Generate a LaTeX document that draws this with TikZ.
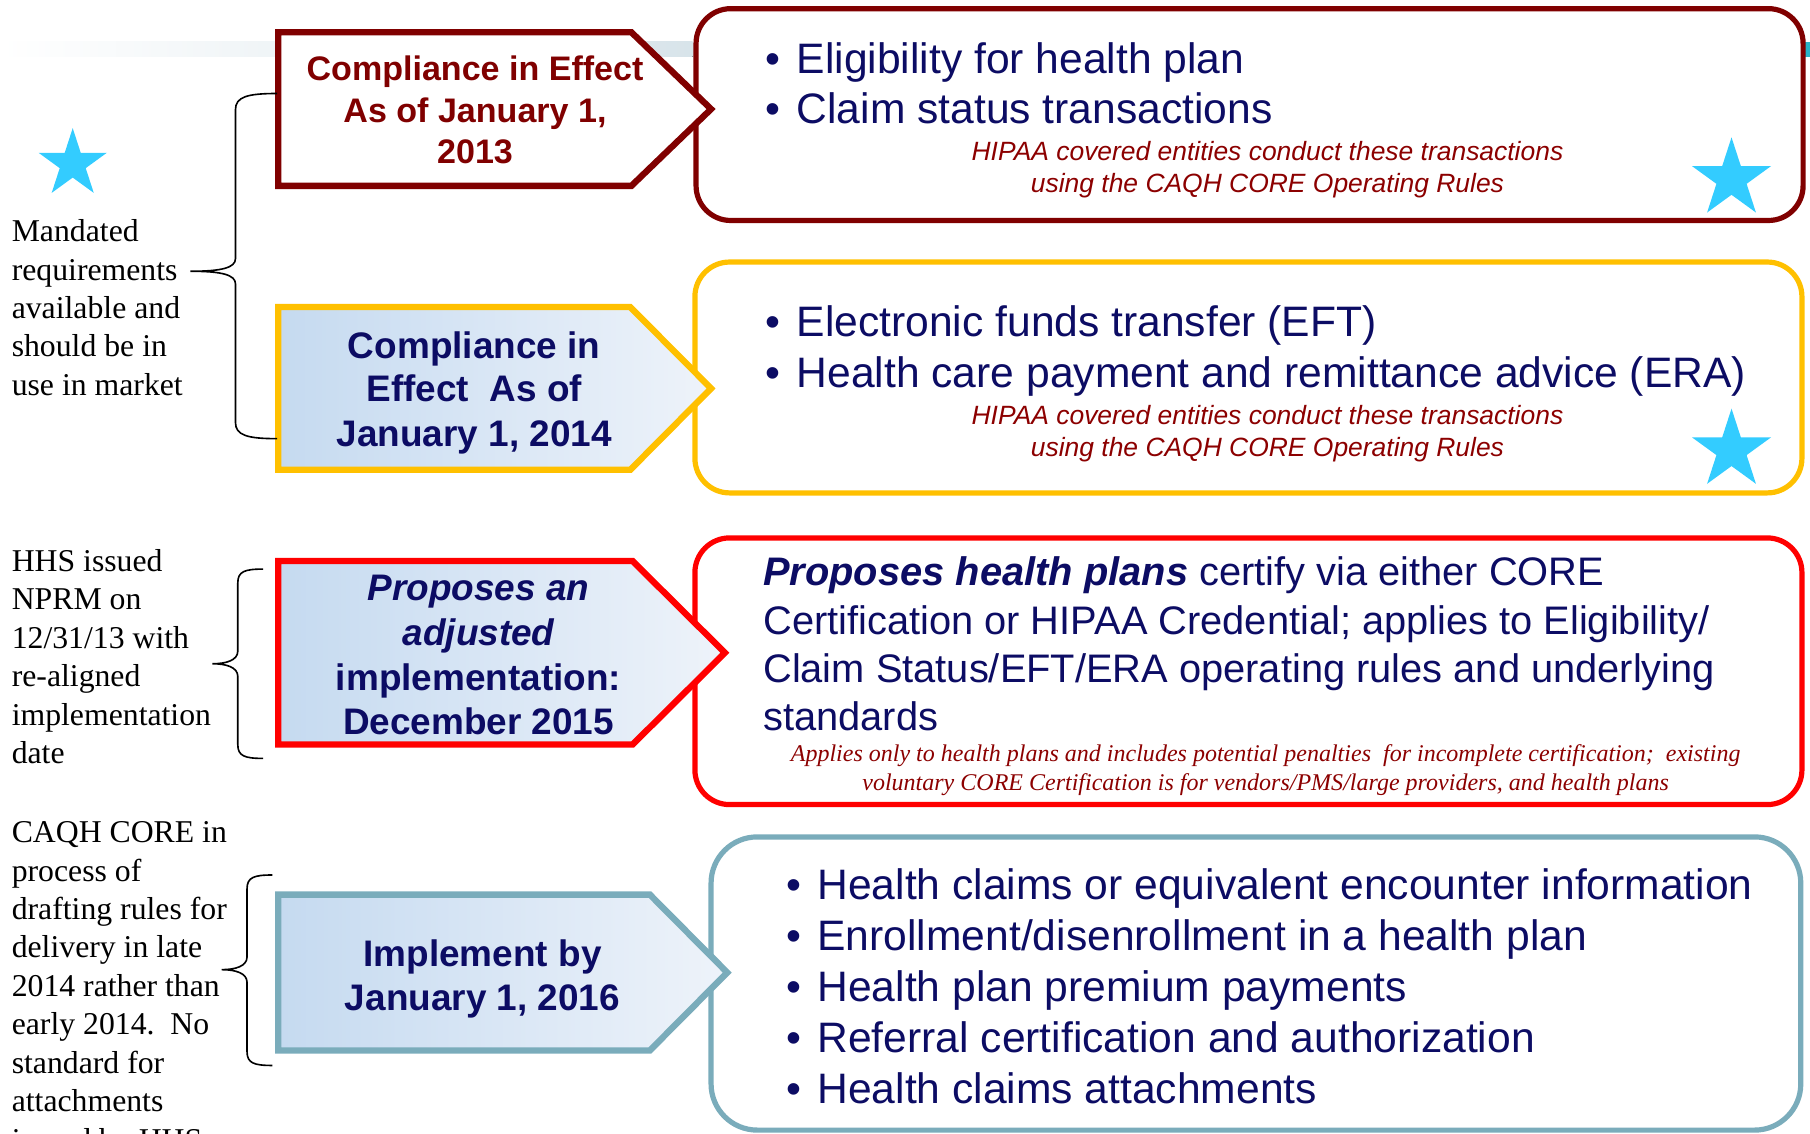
\documentclass[tikz,border=0pt]{standalone}
\usepackage{fontspec}
\setmainfont{Liberation Serif}
\newfontfamily\arial{Liberation Sans}
\usetikzlibrary{shapes.geometric}
\definecolor{maroonc}{RGB}{128,0,0}
\definecolor{navyc}{RGB}{12,12,100}
\definecolor{darkredc}{RGB}{140,0,0}
\definecolor{goldc}{RGB}{255,192,0}
\definecolor{brightredc}{RGB}{255,0,0}
\definecolor{tealc}{RGB}{122,172,187}
\definecolor{starblue}{RGB}{51,204,255}
\definecolor{gradL}{RGB}{197,218,240}
\definecolor{gradR}{RGB}{238,243,250}
\definecolor{bandmid}{RGB}{216,228,234}
\definecolor{bandend}{RGB}{40,180,200}
\tikzset{
  pent/.style={line width=5.5pt, line join=miter, left color=gradL, right color=gradR},
  rbox/.style={line width=4.5pt, rounded corners=30pt, fill=white},
  brace/.style={line width=1.4pt, black},
  ptext/.style={anchor=base, inner sep=0pt, text=navyc, font=\arial\bfseries\fontsize{32}{38}\selectfont},
  bul/.style={anchor=base west, inner sep=0pt, text=navyc, font=\arial\fontsize{36.9}{44}\selectfont},
  rtext/.style={anchor=base west, inner sep=0pt, text=navyc, font=\arial\fontsize{34.5}{41.8}\selectfont},
  note/.style={anchor=base, inner sep=0pt, text=darkredc, font=\arial\itshape\fontsize{22.9}{28}\selectfont},
  snote/.style={anchor=base, inner sep=0pt, text=darkredc, font=\itshape\fontsize{20.8}{25}\selectfont},
  ltext/.style={anchor=base west, inner sep=0pt, text=black, font=\fontsize{27.5}{33.3}\selectfont},
  starn/.style={star, star points=5, star point ratio=2.618, fill=starblue, draw=none, inner sep=0pt},
}
\newcommand{\bl}{\llap{\textbullet\hskip 14pt}}
\begin{document}
\begin{tikzpicture}[x=1pt,y=-1pt]
\useasboundingbox (0,0) rectangle (1568,982);
% background band
\fill[left color=white, right color=bandmid] (0,36) rectangle (600,49);
\fill[bandmid] (600,36) rectangle (1563,49);
\fill[bandend] (1563,36) rectangle (1568,49);

% left star
\node[starn, minimum size=62pt] (s0) at (63,142) {};

% ---------- rounded boxes ----------
\draw[rbox, draw=maroonc] (603,7.5) rectangle (1562,191);
\draw[rbox, draw=goldc] (602,227) rectangle (1561,427);
\draw[rbox, draw=brightredc] (602,466) rectangle (1561,697);
\draw[rbox, draw=tealc, rounded corners=40pt] (616,725) rectangle (1560,979);

% ---------- pentagon boxes (on top of the rounded boxes) ----------
\draw[pent, draw=maroonc, fill=white, left color=white, right color=white] (241,28) -- (547,28) -- (616,94.5) -- (547,161) -- (241,161) -- cycle;
\draw[pent, draw=goldc] (241,266) -- (546,266) -- (616,336.5) -- (546,407) -- (241,407) -- cycle;
\draw[pent, draw=brightredc] (241,486) -- (548,486) -- (628,565.5) -- (548,645) -- (241,645) -- cycle;
\draw[pent, draw=tealc] (241,775) -- (563,775) -- (630,842.5) -- (563,910) -- (241,910) -- cycle;

% stars in boxes
\node[starn, minimum size=72pt] (s1) at (1500,155) {};
\node[starn, minimum size=72pt] (s2) at (1500,390) {};

% ---------- pentagon texts ----------
\node[ptext, text=maroonc, font=\arial\bfseries\fontsize{29.5}{36}\selectfont] (p1a) at (411.5,69.8) {Compliance in Effect};
\node[ptext, text=maroonc, font=\arial\bfseries\fontsize{29.5}{36}\selectfont] (p1b) at (411.5,105.9) {As of January 1,};
\node[ptext, text=maroonc, font=\arial\bfseries\fontsize{29.5}{36}\selectfont] (p1c) at (411.5,142) {2013};

\node[ptext] (p2a) at (410.8,310.5) {Compliance in};
\node[ptext] (p2b) at (410.8,348) {Effect\ \ As of};
\node[ptext] (p2c) at (410.8,386.5) {January 1, 2014};

\node[ptext] (p3a) at (414.6,520.3) {\itshape Proposes an};
\node[ptext] (p3b) at (414.6,559) {\itshape adjusted};
\node[ptext] (p3c) at (414.6,598) {implementation:};
\node[ptext] (p3d) at (414.6,636) {December 2015};

\node[ptext] (p4a) at (418,837) {Implement by};
\node[ptext] (p4b) at (418,875) {January 1, 2016};

% ---------- rounded box texts ----------
\node[bul] (r1a) at (690,63.5) {\bl Eligibility for health plan};
\node[bul] (r1b) at (690,107) {\bl Claim status transactions};
\node[note] (r1c) at (1098,139) {HIPAA covered entities conduct these transactions};
\node[note] (r1d) at (1098,166.5) {using the CAQH CORE Operating Rules};

\node[bul] (r2a) at (690,291.5) {\bl Electronic funds transfer (EFT)};
\node[bul] (r2b) at (690,336) {\bl Health care payment and remittance advice (ERA)};
\node[note] (r2c) at (1098,367.7) {HIPAA covered entities conduct these transactions};
\node[note] (r2d) at (1098,395.2) {using the CAQH CORE Operating Rules};

\node[rtext] (r3a) at (661,507) {\textbf{\textit{Proposes health plans}} certify via either CORE};
\node[rtext] (r3b) at (661,549.7) {Certification or HIPAA Credential; applies to Eligibility/};
\node[rtext] (r3c) at (661,591) {Claim Status/EFT/ERA operating rules and underlying};
\node[rtext] (r3d) at (661,632.5) {standards};
\node[snote] (r3e) at (1096.4,660) {Applies only to health plans and includes potential penalties\ \ for incomplete certification;\ \ existing};
\node[snote] (r3f) at (1096.4,685.2) {voluntary CORE Certification is for vendors/PMS/large providers, and health plans};

\node[bul] (r4a) at (708,779) {\bl Health claims or equivalent encounter information};
\node[bul] (r4b) at (708,823.2) {\bl Enrollment/disenrollment in a health plan};
\node[bul] (r4c) at (708,867.5) {\bl Health plan premium payments};
\node[bul] (r4d) at (708,911.7) {\bl Referral certification and authorization};
\node[bul] (r4e) at (708,956) {\bl Health claims attachments};

% ---------- left texts ----------
\foreach \t [count=\i from 0] in {Mandated, requirements, available and, should be in, use in market}
  \node[ltext] (la\i) at (10,209.5+33.25*\i) {\t};
\foreach \t [count=\i from 0] in {HHS issued, NPRM on, 12/31/13 with, re-aligned, implementation, date}
  \node[ltext] (lb\i) at (10,495+33.3*\i) {\t};
\foreach \t [count=\i from 0] in {CAQH CORE in, process of, drafting rules for, delivery in late, 2014 rather than, early 2014.\ \ No, standard for, attachments, issued by HHS}
  \node[ltext] (lc\i) at (10,730+33.3*\i) {\t};

% ---------- braces ----------
\coordinate (b1t) at (240,81);
\coordinate (b1m) at (165,235);
\coordinate (b1b) at (240,380);
\draw[brace] (b1t) .. controls (214,81) and (204,84) .. (204,95) -- (204,224)
  .. controls (204,232) and (192,235) .. (b1m)
  .. controls (192,235) and (204,238) .. (204,246) -- (204,366)
  .. controls (204,377) and (214,380) .. (b1b);
\coordinate (b2t) at (228,493);
\coordinate (b2m) at (184,575);
\coordinate (b2b) at (228,657);
\draw[brace] (b2t) .. controls (212,493) and (206,495) .. (206,505) -- (206,564)
  .. controls (206,572) and (196,575) .. (b2m)
  .. controls (196,575) and (206,578) .. (206,586) -- (206,645)
  .. controls (206,655) and (212,657) .. (b2b);
\coordinate (b3t) at (236,758);
\coordinate (b3m) at (192,840);
\coordinate (b3b) at (236,923);
\draw[brace] (b3t) .. controls (220,758) and (214,760) .. (214,770) -- (214,829)
  .. controls (214,837) and (204,840) .. (b3m)
  .. controls (204,840) and (214,843) .. (214,851) -- (214,911)
  .. controls (214,921) and (220,923) .. (b3b);
\end{tikzpicture}
\end{document}
